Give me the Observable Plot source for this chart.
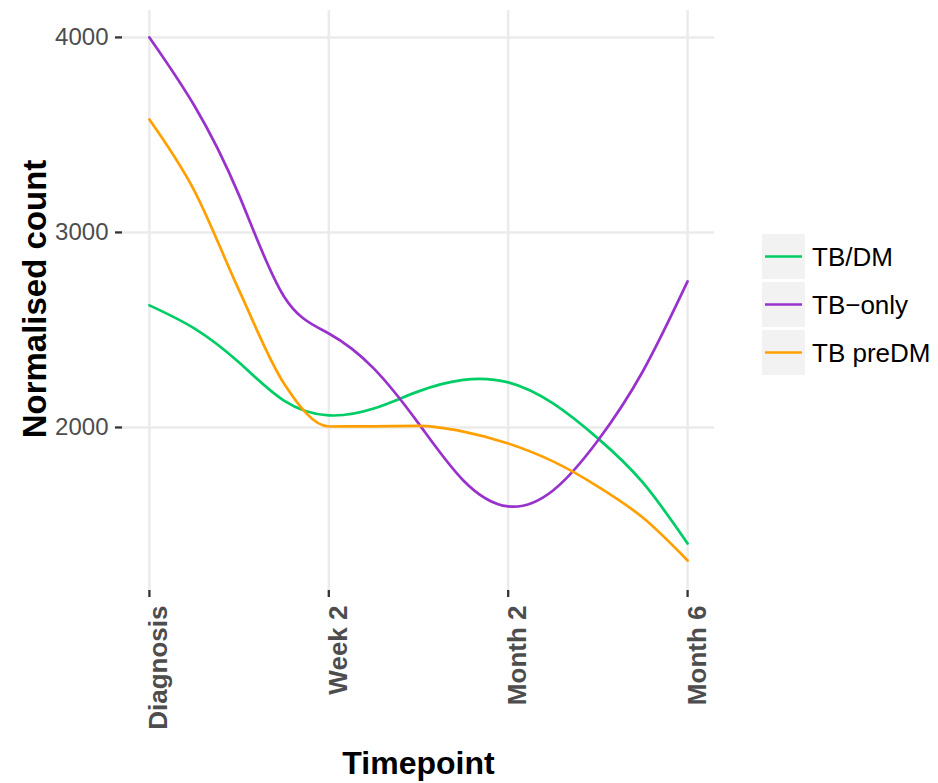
<!DOCTYPE html>
<html>
<head>
<meta charset="utf-8">
<script src="https://cdn.jsdelivr.net/npm/d3@7"></script>
<script src="https://cdn.jsdelivr.net/npm/@observablehq/plot@0.6"></script>
<style>
  html, body { margin: 0; padding: 0; background: #ffffff; }
  #chart { width: 938px; height: 783px; }
</style>
</head>
<body>
<div id="chart"></div>
<script>
// Timepoints on the x axis (positions 0..3)
const timepoints = ["Diagnosis", "Week 2", "Month 2", "Month 6"];
const timepointPos = [0, 1, 2, 3];

// Smoothed trajectories, sampled every quarter of the way between timepoints
const samplePos = [0, 0.25, 0.5, 0.75, 1, 1.25, 1.5, 1.75, 2, 2.25, 2.5, 2.75, 3];
const tbDM    = [2626, 2508, 2333, 2138, 2062, 2097, 2185, 2244, 2231, 2123, 1944, 1718, 1405];
const tbOnly  = [4000, 3651, 3190, 2672, 2482, 2303, 2021, 1728, 1595, 1677, 1933, 2287, 2749];
const tbPreDM = [3579, 3215, 2703, 2226, 2005, 2006, 2008, 1979, 1918, 1826, 1697, 1538, 1318];

const seriesNames  = ["TB/DM", "TB\u2212only", "TB preDM"];
const seriesColors = ["#00CD66", "#9932CC", "#FFA000"];
const seriesValues = [tbDM, tbOnly, tbPreDM];
// interpolation used to draw each trajectory
const seriesCurves = ["natural", "natural", "monotone-x"];

const yTicks = [2000, 3000, 4000];

// long-format rows for the line marks
const rows = seriesNames.flatMap((name, s) =>
  samplePos.map((t, i) => ({series: name, t, v: seriesValues[s][i]}))
);

const FONT = "'Liberation Sans', Arial, Helvetica, sans-serif";
const LINE_WIDTH = 2.7;

const lineMarks = seriesNames.map((name, s) =>
  Plot.line(rows.filter(r => r.series === name), {
    x: "t", y: "v", stroke: "series",
    curve: seriesCurves[s], strokeWidth: LINE_WIDTH
  })
);

const chart = Plot.plot({
  width: 938,
  height: 783,
  marginLeft: 122,
  marginRight: 224,
  marginTop: 10,
  marginBottom: 193,
  style: {fontFamily: FONT, background: "#ffffff", color: "#000000"},
  x: {domain: [-0.15, 3.15], axis: null},
  y: {domain: [1164, 4138], axis: null},
  color: {domain: seriesNames, range: seriesColors},
  marks: [
    // panel grid
    Plot.ruleY(yTicks, {y: d => d, stroke: "#EBEBEB", strokeWidth: 2.5}),
    Plot.ruleX(timepointPos, {x: d => d, stroke: "#EBEBEB", strokeWidth: 2.5}),
    // y axis: ticks and labels
    Plot.axisY(yTicks, {
      anchor: "left", tickSize: 7, tickPadding: 7,
      stroke: "#333333", strokeWidth: 2.3,
      fill: "#4D4D4D", fontSize: 24,
      tickFormat: d => String(d), label: null
    }),
    // x axis: ticks only, labels drawn rotated below
    Plot.axisX(timepointPos, {
      anchor: "bottom", tickSize: 7,
      stroke: "#333333", strokeWidth: 2.3,
      fill: "none", label: null
    }),
    Plot.text(timepointPos, {
      x: d => d, text: (d, i) => timepoints[i],
      frameAnchor: "bottom", rotate: -90,
      textAnchor: "end", lineAnchor: "bottom",
      dx: 18, dy: 15,
      fontSize: 26, fontWeight: "bold", fill: "#4D4D4D"
    }),
    // smoothed count trajectories
    ...lineMarks,
    // axis titles
    Plot.text(["Timepoint"], {
      text: d => d, frameAnchor: "bottom",
      lineAnchor: "bottom", textAnchor: "middle",
      dy: 183, fontSize: 32, fontWeight: "bold", fill: "#000000"
    }),
    Plot.text(["Normalised count"], {
      text: d => d, frameAnchor: "left", rotate: -90,
      lineAnchor: "bottom", textAnchor: "middle",
      dx: -77, dy: -1.5, fontSize: 33, fontWeight: "bold", fill: "#000000"
    })
  ]
});

document.getElementById("chart").appendChild(chart);

// legend on the right
const legend = d3.select(chart).append("g")
  .attr("font-family", FONT)
  .attr("text-anchor", "start");
const items = legend.selectAll("g")
  .data(seriesNames.map((name, i) => ({name, color: seriesColors[i], i})))
  .join("g")
  .attr("transform", d => `translate(762, ${234 + 48 * d.i})`);
items.append("rect")
  .attr("width", 43).attr("height", 45)
  .attr("fill", "#F2F2F2");
items.append("line")
  .attr("x1", 3).attr("x2", 40)
  .attr("y1", 22.5).attr("y2", 22.5)
  .attr("stroke", d => d.color)
  .attr("stroke-width", LINE_WIDTH);
items.append("text")
  .attr("x", 50).attr("y", 32)
  .attr("font-size", 26)
  .attr("text-anchor", "start")
  .attr("fill", "#000000")
  .text(d => d.name);
</script>
</body>
</html>
